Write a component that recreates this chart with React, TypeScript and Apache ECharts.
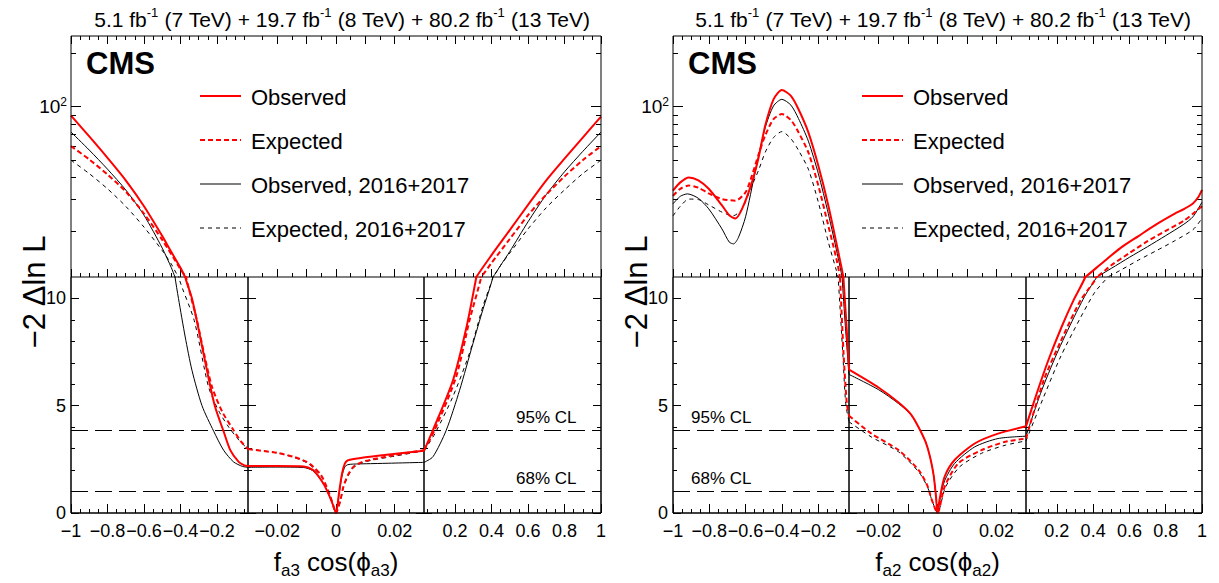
import React, { useEffect, useRef } from "react";
import * as echarts from "echarts";

// ---------------- data: f_a3 cos(phi_a3) panel ----------------
const fa3Observed: number[][] = [
  [-1, 89], [-0.9, 68], [-0.8, 51.5], [-0.7, 38.5], [-0.6, 27.5], [-0.5, 18.7], [-0.45, 15.2], [-0.4, 12.4], [-0.374, 11],
  [-0.337, 10], [-0.292, 8.2], [-0.255, 6.65], [-0.212, 5], [-0.164, 3.81], [-0.127, 2.93], [-0.081, 2.38], [-0.05, 2.22], [-0.03, 2.19],
  [-0.02, 2.19], [-0.011, 2.17], [-0.008, 2.02], [-0.006, 1.72], [-0.004, 1.3], [-0.002, 0.72], [-0.001, 0.37], [0, 0],
  [0.001, 0.9], [0.002, 1.8], [0.003, 2.3], [0.004, 2.45], [0.006, 2.52], [0.015, 2.68], [0.03, 2.9],
  [0.079, 3.86], [0.189, 6.19], [0.263, 8.67], [0.317, 11], [0.4, 14.6], [0.5, 20.2], [0.6, 28], [0.7, 38.5], [0.8, 51], [0.9, 67], [1, 88],
];
const fa3Expected: number[][] = [
  [-1, 60], [-0.9, 50.5], [-0.8, 41.5], [-0.7, 33.3], [-0.6, 25], [-0.5, 17.8], [-0.4, 12.2], [-0.37, 11],
  [-0.31, 8.98], [-0.27, 7.4], [-0.227, 5.87], [-0.17, 4.7], [-0.109, 3.86], [-0.07, 3.35], [-0.03, 2.98],
  [-0.02, 2.8], [-0.0145, 2.62], [-0.01, 2.38], [-0.0077, 2.15], [-0.005, 1.75], [-0.0032, 1.22], [-0.0015, 0.6], [0, 0],
  [0.0015, 0.6], [0.0025, 1.22], [0.004, 1.75], [0.0059, 2.15], [0.009, 2.38], [0.0138, 2.54], [0.02, 2.7], [0.03, 2.93],
  [0.088, 3.86], [0.207, 6.37], [0.28, 9.0], [0.344, 11], [0.4, 13.2], [0.5, 18], [0.6, 24.5], [0.7, 32], [0.8, 40.5], [0.9, 50], [1, 60],
];
const fa3Observed1617: number[][] = [
  [-1, 72], [-0.9, 57], [-0.8, 44.5], [-0.7, 34], [-0.6, 24.5], [-0.5, 16], [-0.45, 12.4], [-0.43, 11],
  [-0.411, 10], [-0.374, 8.2], [-0.337, 6.65], [-0.282, 5], [-0.218, 3.81], [-0.164, 2.93], [-0.109, 2.38], [-0.06, 2.17], [-0.03, 2.13],
  [-0.02, 2.14], [-0.011, 2.12], [-0.008, 1.98], [-0.006, 1.7], [-0.004, 1.3], [-0.002, 0.7], [-0.001, 0.35], [0, 0],
  [0.001, 0.85], [0.002, 1.7], [0.003, 2.15], [0.004, 2.25], [0.006, 2.28], [0.015, 2.31], [0.03, 2.36],
  [0.079, 2.62], [0.152, 3.86], [0.225, 5.72], [0.298, 7.89], [0.353, 9.49], [0.408, 11], [0.45, 12.8], [0.5, 15.3], [0.6, 22.5], [0.7, 32], [0.8, 43], [0.9, 56], [1, 72],
];
const fa3Expected1617: number[][] = [
  [-1, 50], [-0.9, 42], [-0.8, 34.5], [-0.7, 27.5], [-0.6, 21], [-0.5, 15.5], [-0.45, 13], [-0.41, 11],
  [-0.325, 8.98], [-0.246, 5.87], [-0.19, 4.75], [-0.136, 4.01], [-0.08, 3.4], [-0.03, 2.98],
  [-0.02, 2.8], [-0.0145, 2.6], [-0.01, 2.35], [-0.0077, 2.1], [-0.005, 1.7], [-0.0032, 1.2], [-0.0015, 0.6], [0, 0],
  [0.0015, 0.55], [0.0025, 1.15], [0.004, 1.7], [0.0059, 2.1], [0.009, 2.35], [0.0138, 2.5], [0.02, 2.65], [0.03, 2.9],
  [0.09, 3.7], [0.189, 5.44], [0.28, 7.47], [0.353, 9.64], [0.408, 11], [0.45, 12.8], [0.5, 15], [0.6, 20.5], [0.7, 27], [0.8, 34], [0.9, 42], [1, 50],
];

// ---------------- data: f_a2 cos(phi_a2) panel ----------------
const fa2Observed: number[][] = [
  [-1, 33.7], [-0.96, 37.5], [-0.913, 40], [-0.86, 38.5], [-0.803, 34.5], [-0.73, 27.8], [-0.69, 24.5], [-0.656, 23.5], [-0.62, 26.5],
  [-0.565, 37.5], [-0.528, 52], [-0.492, 78], [-0.446, 110], [-0.4, 124], [-0.35, 115], [-0.309, 97], [-0.254, 71.7], [-0.199, 46.5],
  [-0.144, 27.8], [-0.089, 15.2], [-0.061, 11], [-0.045, 8.9], [-0.03, 6.68],
  [-0.02, 5.85], [-0.0132, 5.15], [-0.009, 4.6], [-0.0064, 4.0], [-0.004, 3.3], [-0.0025, 2.6], [-0.0013, 1.75], [-0.0005, 0.75], [0, 0],
  [0.0008, 0.7], [0.0024, 1.69], [0.0058, 2.47], [0.0126, 3.24], [0.0205, 3.7], [0.03, 4.04],
  [0.089, 5.57], [0.153, 7.12], [0.226, 8.67], [0.291, 9.9], [0.357, 11], [0.45, 13.2], [0.55, 16], [0.65, 18.7], [0.75, 21.8],
  [0.85, 25], [0.9, 26.5], [0.95, 28.5], [0.98, 31], [1, 34],
];
const fa2Expected: number[][] = [
  [-1, 31.5], [-0.96, 34.5], [-0.913, 36], [-0.86, 35], [-0.803, 32.5], [-0.73, 30.2], [-0.656, 29.6], [-0.6, 33],
  [-0.565, 40.9], [-0.528, 54], [-0.492, 68.8], [-0.446, 85], [-0.4, 90.9], [-0.35, 84], [-0.309, 72], [-0.254, 55.3], [-0.199, 36],
  [-0.144, 21.4], [-0.1, 14], [-0.08, 11], [-0.06, 7.43], [-0.042, 5.1], [-0.03, 4.53],
  [-0.0225, 3.71], [-0.0132, 2.93], [-0.0064, 2.0], [-0.0035, 1.3], [-0.0019, 0.6], [0, 0],
  [0.0024, 1.22], [0.007, 2.31], [0.0149, 2.93], [0.023, 3.32], [0.03, 3.47],
  [0.128, 6.19], [0.22, 7.98], [0.33, 9.9], [0.42, 11], [0.5, 12.8], [0.6, 15], [0.7, 17.5], [0.8, 20], [0.9, 22.8], [0.95, 25], [1, 27.5],
];
const fa2Observed1617: number[][] = [
  [-1, 28.4], [-0.96, 31.3], [-0.92, 32.3], [-0.86, 30.5], [-0.803, 26.6], [-0.73, 20.5], [-0.69, 17.3], [-0.666, 16.9], [-0.64, 18.3],
  [-0.6, 24], [-0.547, 43], [-0.492, 76], [-0.446, 101], [-0.4, 110], [-0.35, 102], [-0.309, 86], [-0.254, 64], [-0.199, 42],
  [-0.144, 25], [-0.089, 14], [-0.068, 11], [-0.05, 8.7], [-0.03, 6.46],
  [-0.02, 5.75], [-0.0132, 5.1], [-0.009, 4.58], [-0.0064, 3.98], [-0.004, 3.3], [-0.0025, 2.6], [-0.0013, 1.75], [-0.0005, 0.75], [0, 0],
  [0.0008, 0.65], [0.0024, 1.5], [0.0058, 2.31], [0.0126, 3.08], [0.0205, 3.47], [0.03, 3.58],
  [0.11, 5.57], [0.2, 7.43], [0.293, 9.1], [0.36, 10.2], [0.42, 11], [0.5, 12.3], [0.6, 14.2], [0.7, 16.3], [0.8, 18.8],
  [0.9, 21.8], [0.95, 24], [1, 29],
];
const fa2Expected1617: number[][] = [
  [-1, 24.3], [-0.96, 27.5], [-0.913, 30.2], [-0.86, 30], [-0.803, 28], [-0.73, 25.5], [-0.67, 24.3], [-0.62, 26.5],
  [-0.565, 36], [-0.528, 44], [-0.492, 55.3], [-0.446, 67], [-0.4, 72.4], [-0.35, 66], [-0.309, 57], [-0.254, 44.5], [-0.199, 29],
  [-0.144, 17.3], [-0.1, 12], [-0.09, 11], [-0.064, 7.4], [-0.048, 5.1], [-0.03, 4.25],
  [-0.0225, 3.55], [-0.0132, 2.85], [-0.0064, 1.92], [-0.0035, 1.25], [-0.0019, 0.6], [0, 0],
  [0.0027, 1.2], [0.0075, 2.15], [0.0149, 2.78], [0.023, 3.16], [0.03, 3.36],
  [0.128, 5.42], [0.22, 7.27], [0.33, 9.1], [0.41, 10.3], [0.48, 11], [0.55, 12], [0.65, 13.7], [0.75, 15.5], [0.85, 17.6],
  [0.95, 20.3], [1, 23.5],
];

// ---------------- axes ----------------
const segments: number[][] = [[-1, -0.03], [-0.03, 0.03], [0.03, 1]];
const xMajorTicks: number[][] = [
  [-1, -0.8, -0.6, -0.4, -0.2],
  [-0.02, -0.01, 0, 0.01, 0.02],
  [0.2, 0.4, 0.6, 0.8, 1],
];
const xMinorTicks: number[][] = [
  [-0.95, -0.9, -0.85, -0.75, -0.7, -0.65, -0.55, -0.5, -0.45, -0.35, -0.3, -0.25, -0.15, -0.1, -0.05],
  [-0.025, -0.015, -0.005, 0.005, 0.015, 0.025],
  [0.05, 0.1, 0.15, 0.25, 0.3, 0.35, 0.45, 0.5, 0.55, 0.65, 0.7, 0.75, 0.85, 0.9, 0.95],
];
const xTickLabels: number[][] = [
  [-1, -0.8, -0.6, -0.4, -0.2],
  [-0.02, 0, 0.02],
  [0.2, 0.4, 0.6, 0.8, 1],
];
const yLinMajor = [0, 5, 10];
const yLinMinor = [1, 2, 3, 4, 6, 7, 8, 9];
const yLogMajor = [100];
const yLogMinor = [20, 30, 40, 50, 60, 70, 80, 90, 200];
const yLogLabel = "{a|10}{s|2}";
const clLevels = [3.84, 1];
const clLabels = ["95% CL", "68% CL"];
const legendNames = ["Observed", "Expected", "Observed, 2016+2017", "Expected, 2016+2017"];
const lumiText = "{n|5.1 fb}{s|-1}{n| (7 TeV) + 19.7 fb}{s|-1}{n| (8 TeV) + 80.2 fb}{s|-1}{n| (13 TeV)}";

// ---------------- layout / style ----------------
const FONT = "'Liberation Sans', Arial, Helvetica, sans-serif";
const TOP = 36, MID = 277, BOT = 513;
const LOG_MIN = 11, LOG_MAX = 250, LIN_MAX = 11;
const curveStyles: any[] = [
  { color: "#ff0000", width: 2, type: "solid", z: 5, dash: null },
  { color: "#ff0000", width: 2, type: [5, 3], z: 4, dash: [5, 3] },
  { color: "#000000", width: 1, type: "solid", z: 3, dash: null },
  { color: "#000000", width: 1, type: [4, 4], z: 2, dash: [4, 4] },
];
const legendRows = [96, 140, 184, 228];

const panelInfo = [
  {
    segX: [71, 248, 424, 601],
    curves: [fa3Observed, fa3Expected, fa3Observed1617, fa3Expected1617],
    sub: "a3",
    legendX: 200,
    clX: 516,
  },
  {
    segX: [673, 849, 1026, 1202],
    curves: [fa2Observed, fa2Expected, fa2Observed1617, fa2Expected1617],
    sub: "a2",
    legendX: 862,
    clX: 691,
  },
];

function fmtTick(v: number): string {
  const a = Math.abs(v);
  const s = String(parseFloat(a.toFixed(4)));
  return v < -1e-12 ? "\u2212" + s : s;
}

function buildOption() {
  const grid: any[] = [];
  const xAxis: any[] = [];
  const yAxis: any[] = [];
  const series: any[] = [];
  const graphic: any[] = [];
  const tick = (len: number, vals: number[]) => ({
    show: true,
    inside: true,
    length: len,
    customValues: vals,
    lineStyle: { color: "#000", width: 1 },
  });
  const noLine = { show: false, onZero: false };
  const logFrac = (v: number) =>
    (Math.log10(LOG_MAX) - Math.log10(v)) / (Math.log10(LOG_MAX) - Math.log10(LOG_MIN));

  panelInfo.forEach((p) => {
    [true, false].forEach((up) => {
      for (let s = 0; s < 3; s++) {
        const gi = grid.length;
        const x0 = p.segX[s];
        const x1 = p.segX[s + 1];
        grid.push({
          left: x0,
          top: up ? TOP : MID,
          width: x1 - x0,
          height: up ? MID - TOP : BOT - MID,
          show: !up,
          borderColor: "#000",
          borderWidth: 1,
          backgroundColor: "rgba(0,0,0,0)",
        });
        const [xmin, xmax] = segments[s];
        const bx = {
          type: "value",
          gridIndex: gi,
          min: xmin,
          max: xmax,
          axisLine: noLine,
          splitLine: { show: false },
          axisLabel: { show: false },
        };
        const mainX = xAxis.length;
        xAxis.push({
          ...bx,
          position: "bottom",
          axisTick: tick(up ? 8 : 9, xMajorTicks[s]),
          axisLabel: up
            ? { show: false }
            : {
                show: true,
                customValues: xTickLabels[s],
                formatter: (v: number) => fmtTick(v),
                color: "#000",
                fontSize: 18,
                fontFamily: FONT,
                margin: 9,
              },
        });
        xAxis.push({ ...bx, position: "bottom", axisTick: tick(4, xMinorTicks[s]) });
        if (up) {
          xAxis.push({ ...bx, position: "top", axisTick: tick(8, xMajorTicks[s]) });
          xAxis.push({ ...bx, position: "top", axisTick: tick(4, xMinorTicks[s]) });
        }

        const mainY = yAxis.length;
        if (up) {
          const by = {
            type: "log",
            logBase: 10,
            gridIndex: gi,
            min: LOG_MIN,
            max: LOG_MAX,
            axisLine: noLine,
            splitLine: { show: false },
            axisLabel: { show: false },
          };
          if (s === 1) {
            yAxis.push({ ...by, show: false, axisTick: { show: false } });
          } else {
            const pos = s === 0 ? "left" : "right";
            yAxis.push({ ...by, position: pos, axisTick: tick(10, yLogMajor) });
            yAxis.push({ ...by, position: pos, axisTick: tick(5, yLogMinor) });
          }
        } else {
          const by = {
            type: "value",
            gridIndex: gi,
            min: 0,
            max: LIN_MAX,
            axisLine: noLine,
            splitLine: { show: false },
            axisLabel: { show: false },
          };
          yAxis.push({
            ...by,
            position: "left",
            axisTick: tick(8, yLinMajor),
            axisLabel:
              s === 0
                ? {
                    show: true,
                    customValues: yLinMajor,
                    color: "#000",
                    fontSize: 18,
                    fontFamily: FONT,
                    margin: 5,
                  }
                : { show: false },
          });
          yAxis.push({ ...by, position: "left", axisTick: tick(4, yLinMinor) });
          yAxis.push({ ...by, position: "right", axisTick: tick(8, yLinMajor) });
          yAxis.push({ ...by, position: "right", axisTick: tick(4, yLinMinor) });
        }

        if (!(up && s === 1)) {
          p.curves.forEach((c, ci) => {
            const data = c.filter(([x]) => x >= xmin - 1e-9 && x <= xmax + 1e-9);
            const st = curveStyles[ci];
            const ser: any = {
              type: "line",
              xAxisIndex: mainX,
              yAxisIndex: mainY,
              data,
              symbol: "none",
              showSymbol: false,
              smooth: 0.25,
              clip: true,
              silent: true,
              z: st.z,
              lineStyle: { color: st.color, width: st.width, type: st.type },
              emphasis: { disabled: true },
            };
            if (!up && ci === 0) {
              ser.markLine = {
                silent: true,
                symbol: ["none", "none"],
                label: { show: false },
                lineStyle: { color: "#000", width: 1, type: [17, 7] },
                data: clLevels.map((v) => ({ yAxis: v })),
              };
            }
            series.push(ser);
          });
        }
      }
    });

    // log-axis label 10^2
    yLogMajor.forEach((v) => {
      graphic.push({
        type: "text",
        silent: true,
        z: 100,
        x: p.segX[0] - 4,
        y: TOP + logFrac(v) * (MID - TOP),
        style: {
          text: yLogLabel,
          align: "right",
          verticalAlign: "middle",
          fill: "#000",
          rich: {
            a: { fontSize: 19, lineHeight: 22, fontFamily: FONT, fill: "#000" },
            s: { fontSize: 12, lineHeight: 12, verticalAlign: "top", fontFamily: FONT, fill: "#000" },
          },
        },
      });
    });
    // frame
    graphic.push({
      type: "rect",
      silent: true,
      z: 100,
      shape: { x: p.segX[0], y: TOP, width: p.segX[3] - p.segX[0], height: BOT - TOP },
      style: { fill: "none", stroke: "#000", lineWidth: 1 },
    });
    // luminosity title
    graphic.push({
      type: "text",
      silent: true,
      z: 100,
      x: p.segX[3] - 11,
      y: 19,
      style: {
        text: lumiText,
        align: "right",
        verticalAlign: "middle",
        fill: "#000",
        rich: {
          n: { fontSize: 21, lineHeight: 26, fontFamily: FONT, fill: "#000" },
          s: { fontSize: 13, lineHeight: 13, verticalAlign: "top", fontFamily: FONT, fill: "#000" },
        },
      },
    });
    // CMS
    graphic.push({
      type: "text",
      silent: true,
      z: 100,
      x: p.segX[0] + 15,
      y: 63,
      style: {
        text: "CMS",
        fontSize: 31,
        fontWeight: "bold",
        fontFamily: FONT,
        fill: "#000",
        align: "left",
        verticalAlign: "middle",
      },
    });
    // legend
    legendNames.forEach((name, i) => {
      const st = curveStyles[i];
      graphic.push({
        type: "line",
        silent: true,
        z: 100,
        shape: { x1: p.legendX, y1: legendRows[i], x2: p.legendX + 41, y2: legendRows[i] },
        style: { stroke: st.color, lineWidth: st.width, lineDash: st.dash || undefined },
      });
      graphic.push({
        type: "text",
        silent: true,
        z: 100,
        x: p.legendX + 51,
        y: legendRows[i] + 1,
        style: {
          text: name,
          fontSize: 22,
          fontFamily: FONT,
          fill: "#000",
          align: "left",
          verticalAlign: "middle",
        },
      });
    });
    // CL labels
    clLabels.forEach((lab, i) => {
      graphic.push({
        type: "text",
        silent: true,
        z: 100,
        x: p.clX,
        y: i === 0 ? 417 : 478,
        style: {
          text: lab,
          fontSize: 17,
          fontFamily: FONT,
          fill: "#000",
          align: "left",
          verticalAlign: "middle",
        },
      });
    });
    // y title
    graphic.push({
      type: "text",
      silent: true,
      z: 100,
      x: p.segX[0] - 37,
      y: 292,
      rotation: Math.PI / 2,
      style: {
        text: "\u22122 \u0394ln L",
        fontSize: 31,
        fontFamily: FONT,
        fill: "#000",
        align: "center",
        verticalAlign: "middle",
      },
    });
    // x title
    graphic.push({
      type: "text",
      silent: true,
      z: 100,
      x: (p.segX[0] + p.segX[3]) / 2,
      y: 562,
      style: {
        text: `{n|f}{b|${p.sub}}{n| cos(\u03d5}{b|${p.sub}}{n|)}`,
        align: "center",
        verticalAlign: "middle",
        fill: "#000",
        rich: {
          n: { fontSize: 26, lineHeight: 34, fontFamily: FONT, fill: "#000" },
          b: { fontSize: 17, lineHeight: 17, verticalAlign: "bottom", fontFamily: FONT, fill: "#000" },
        },
      },
    });
  });

  return {
    animation: false,
    backgroundColor: "#ffffff",
    grid,
    xAxis,
    yAxis,
    series,
    graphic: { elements: graphic },
  };
}

export default function App() {
  const ref = useRef<HTMLDivElement>(null);
  useEffect(() => {
    document.body.style.margin = "0";
    if (!ref.current) return;
    const chart = echarts.init(ref.current, undefined, { renderer: "svg" });
    chart.setOption(buildOption() as any);
    return () => chart.dispose();
  }, []);
  return <div ref={ref} style={{ width: 1219, height: 583 }} />;
}
